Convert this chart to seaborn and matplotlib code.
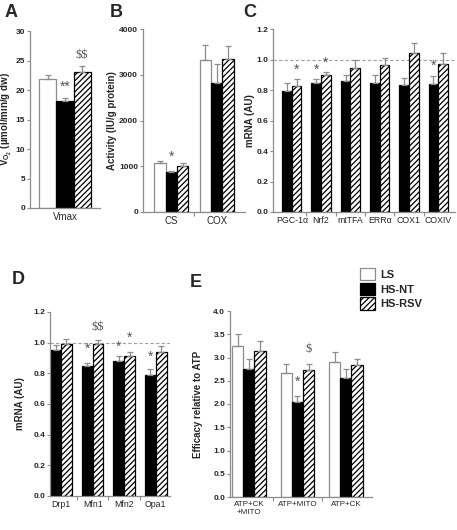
import matplotlib
matplotlib.use("Agg")
import matplotlib.pyplot as plt
from matplotlib.patches import Patch
from matplotlib.ticker import FormatStrFormatter
import numpy as np
import pandas as pd
import seaborn as sns

groups = ["LS", "HS-NT", "HS-RSV"]

# A: Vmax
a_cats = ["Vmax"]
a_vals = {"LS": [21.9], "HS-NT": [18.2], "HS-RSV": [23.0]}
a_errs = {"LS": [0.6], "HS-NT": [0.4], "HS-RSV": [1.1]}
a_marks = [("Vmax", "HS-NT", "**", 20.6), ("Vmax", "HS-RSV", r"\$\$", 26.0)]

# B: enzyme activity
b_cats = ["CS", "COX"]
b_vals = {"LS": [1080, 3320], "HS-NT": [870, 2830], "HS-RSV": [1000, 3350]}
b_errs = {"LS": [30, 320], "HS-NT": [30, 400], "HS-RSV": [70, 270]}
b_marks = [("CS", "HS-NT", "*", 1200)]

# C: biogenesis genes (LS = 1)
c_cats = ["PGC-1α", "Nrf2", "mtTFA", "ERRα", "COX1", "COXIV"]
c_vals = {"HS-NT": [0.796, 0.844, 0.862, 0.844, 0.833, 0.840],
          "HS-RSV": [0.829, 0.900, 0.944, 0.964, 1.040, 0.971]}
c_errs = {"HS-NT": [0.048, 0.027, 0.038, 0.056, 0.045, 0.049],
          "HS-RSV": [0.042, 0.018, 0.051, 0.046, 0.070, 0.073]}
c_marks = [("PGC-1α", "HS-RSV", "*", 0.93), ("Nrf2", "HS-NT", "*", 0.93),
           ("Nrf2", "HS-RSV", "*", 0.98), ("COXIV", "HS-NT", "*", 0.96)]

# D: dynamics genes (LS = 1)
d_cats = ["Drp1", "Mfn1", "Mfn2", "Opa1"]
d_vals = {"HS-NT": [0.954, 0.846, 0.878, 0.789],
          "HS-RSV": [0.989, 0.994, 0.916, 0.939]}
d_errs = {"HS-NT": [0.029, 0.023, 0.034, 0.037],
          "HS-RSV": [0.038, 0.026, 0.021, 0.039]}
d_marks = [("Mfn1", "HS-RSV", r"\$\$", 1.10), ("Mfn1", "HS-NT", "*", 0.96),
           ("Mfn2", "HS-NT", "*", 0.97), ("Mfn2", "HS-RSV", "*", 1.03),
           ("Opa1", "HS-NT", "*", 0.91)]

# E: efficacy relative to ATP
e_cats = ["ATP+CK\n+MITO", "ATP+MITO", "ATP+CK"]
e_vals = {"LS": [3.25, 2.67, 2.91], "HS-NT": [2.76, 2.04, 2.56], "HS-RSV": [3.14, 2.73, 2.83]}
e_errs = {"LS": [0.26, 0.18, 0.21], "HS-NT": [0.20, 0.14, 0.20], "HS-RSV": [0.22, 0.14, 0.13]}
e_marks = [("ATP+MITO", "HS-NT", "*", 2.48), ("ATP+MITO", "HS-RSV", r"\$", 3.18)]

sns.set_theme(style="white")
plt.rcParams["font.family"] = ["Liberation Sans", "DejaVu Sans"]
plt.rcParams["mathtext.fontset"] = "custom"
plt.rcParams["mathtext.bf"] = "Liberation Sans:bold"
plt.rcParams["mathtext.rm"] = "Liberation Sans"
plt.rcParams["mathtext.default"] = "bf"
plt.rcParams["hatch.linewidth"] = 0.9

GREY = "#8c8c8c"
palette = {"LS": "white", "HS-NT": "black", "HS-RSV": "white"}
W, H = 457, 530


def panel(rect, cats, vals, errs, marks, width, xlim, ylim, yticks, fmt, ylabel,
          label_x, xfs=6.5, dashed=False):
    ax = fig.add_axes([rect[0] / W, 1 - rect[3] / H, (rect[1] - rect[0]) / W, (rect[3] - rect[2]) / H])
    hue_order = [g for g in groups if g in vals]
    df = pd.DataFrame([{"cat": c, "grp": g, "val": v}
                       for g in hue_order for c, v in zip(cats, vals[g])])
    sns.barplot(data=df, x="cat", y="val", hue="grp", order=cats, hue_order=hue_order,
                palette=palette, width=width, errorbar=None, legend=False,
                saturation=1, ax=ax, zorder=2)
    centers = {}
    for cont, g in zip(ax.containers, hue_order):
        xs = []
        for bar in cont:
            bar.set_linewidth(0.9)
            bar.set_edgecolor(GREY if g == "LS" else "black")
            if g == "HS-RSV":
                bar.set_hatch("//////")
            xs.append(bar.get_x() + bar.get_width() / 2)
        centers[g] = xs
        ax.errorbar(xs, vals[g], yerr=[np.zeros(len(xs)), errs[g]], fmt="none",
                    ecolor=GREY, elinewidth=0.9, capsize=2.2, capthick=0.9, zorder=3)
    for cat, g, sym, y in marks:
        x = centers[g][cats.index(cat)]
        if "$" in sym:
            ax.text(x, y, sym, ha="center", va="center", fontsize=9, color="#555555",
                    family=["Liberation Serif"])
        else:
            ax.text(x, y, sym, ha="center", va="center", fontsize=10, color="#555555")
    if dashed:
        ax.axhline(1.0, color="#a0a0a0", lw=0.8, ls=(0, (3, 2)), zorder=0.5)
    ax.set_xlim(*xlim)
    ax.set_ylim(*ylim)
    ax.set_yticks(yticks)
    ax.yaxis.set_major_formatter(FormatStrFormatter(fmt))
    ax.set_xlabel("")
    ax.set_ylabel(ylabel, fontsize=7, fontweight="bold")
    ax.yaxis.set_label_coords((label_x - rect[0]) / (rect[1] - rect[0]), 0.5)
    ax.set_xticks(range(len(cats)))
    ax.set_xticklabels(cats, fontsize=xfs)
    ax.set_xticks([k + 0.5 for k in range(len(cats) - 1)], minor=True)
    for s in ["top", "right"]:
        ax.spines[s].set_visible(False)
    for s in ["left", "bottom"]:
        ax.spines[s].set_color(GREY)
        ax.spines[s].set_linewidth(0.9)
    ax.tick_params(axis="y", direction="out", length=2, width=0.8, color=GREY,
                   labelsize=6, pad=1.5, left=True)
    for lab in ax.get_yticklabels():
        lab.set_fontweight("bold")
    ax.tick_params(axis="x", which="major", length=0, pad=3)
    ax.tick_params(axis="x", which="minor", direction="out", length=3, width=0.8,
                   color=GREY, bottom=True)
    ax.grid(False)
    return ax


fig = plt.figure(figsize=(W / 100, H / 100), dpi=100)

panel((30, 100, 31, 208), a_cats, a_vals, a_errs, a_marks, 0.73, (-0.5, 0.5),
      (0, 30), range(0, 31, 5), "%d", r"V$_{\mathregular{O_2}}$ (µmol/min/g dw)", 14, xfs=7)
panel((143, 245, 29, 212), b_cats, b_vals, b_errs, b_marks, 0.75, (-0.62, 1.62),
      (0, 4000), range(0, 4001, 1000), "%d", "Activity (IU/g protein)", 117, xfs=7)
panel((273, 455, 29, 212), c_cats, c_vals, c_errs, c_marks, 0.66, (-0.64, 5.57),
      (0, 1.2), np.arange(0, 1.21, 0.2), "%.1f", "mRNA (AU)", 255, xfs=6.3, dashed=True)
panel((50, 170, 312, 496), d_cats, d_vals, d_errs, d_marks, 0.68, (-0.35, 3.45),
      (0, 1.2), np.arange(0, 1.21, 0.2), "%.1f", "mRNA (AU)", 25, xfs=6.3, dashed=True)
panel((230, 372, 311, 497), e_cats, e_vals, e_errs, e_marks, 0.69, (-0.39, 2.54),
      (0, 4.0), np.arange(0, 4.01, 0.5), "%.1f", "Efficacy relative to ATP", 203, xfs=5.8)

for letter, x, y in [("A", 5, 4), ("B", 110, 4), ("C", 243, 4), ("D", 12, 271), ("E", 190, 274)]:
    fig.text(x / W, 1 - y / H, letter, fontsize=13, fontweight="bold", va="top", ha="left")

handles = [Patch(facecolor="white", edgecolor=GREY, linewidth=0.9),
           Patch(facecolor="black", edgecolor="black", linewidth=0.9),
           Patch(facecolor="white", edgecolor="black", hatch="//////", linewidth=0.9)]
fig.legend(handles, groups, loc="upper left", bbox_to_anchor=(360 / W, 1 - 268 / H),
           frameon=False, prop={"weight": "bold", "size": 8}, handlelength=1.35,
           handleheight=1.35, labelspacing=0.2, handletextpad=0.5, borderpad=0,
           borderaxespad=0)

fig.savefig("out.png", dpi=100)
